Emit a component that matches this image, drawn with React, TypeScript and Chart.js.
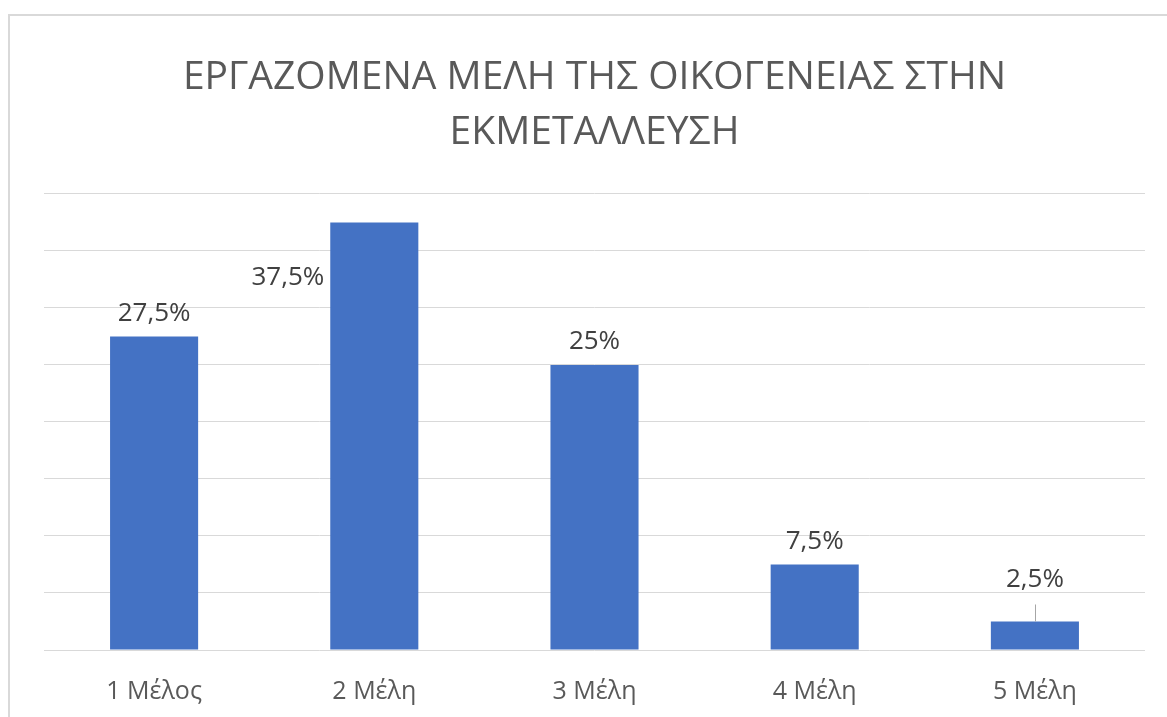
import React, { useEffect, useRef } from "react";
import { Chart, registerables } from "chart.js";

Chart.register(...registerables);

const categories = ["1 Μέλος", "2 Μέλη", "3 Μέλη", "4 Μέλη", "5 Μέλη"];
const percentages = [27.5, 37.5, 25, 7.5, 2.5];
const titleLines = ["ΕΡΓΑΖΟΜΕΝΑ ΜΕΛΗ ΤΗΣ ΟΙΚΟΓΕΝΕΙΑΣ ΣΤΗΝ", "ΕΚΜΕΤΑΛΛΕΥΣΗ"];
const yMax = 40;
const yStep = 5;

const FONT = "'Open Sans', 'Noto Sans', sans-serif";

const labelPlugin = {
  id: "valueLabels",
  afterDatasetsDraw(chart: any) {
    const ctx = chart.ctx;
    const meta = chart.getDatasetMeta(0);
    ctx.save();
    ctx.font = `26px ${FONT}`;
    ctx.fillStyle = "#404040";
    ctx.textBaseline = "middle";
    meta.data.forEach((bar: any, i: number) => {
      const v = percentages[i];
      const text = String(v).replace(".", ",") + "%";
      const x = bar.x;
      const y = bar.y;
      const halfW = bar.width / 2;
      if (i === 1) {
        ctx.textAlign = "right";
        ctx.fillText(text, x - halfW - 6, y + 55);
      } else if (i === 4) {
        ctx.textAlign = "center";
        ctx.fillText(text, x, y - 42);
        ctx.strokeStyle = "#a6a6a6";
        ctx.lineWidth = 1;
        ctx.beginPath();
        ctx.moveTo(Math.round(x) + 0.5, y - 17);
        ctx.lineTo(Math.round(x) + 0.5, y);
        ctx.stroke();
      } else {
        ctx.textAlign = "center";
        ctx.fillText(text, x, y - 23);
      }
    });
    ctx.restore();
  },
};

export default function App() {
  const ref = useRef<HTMLCanvasElement | null>(null);
  useEffect(() => {
    if (!ref.current) return;
    const chart = new Chart(ref.current, {
      type: "bar",
      data: {
        labels: categories,
        datasets: [
          {
            data: percentages,
            backgroundColor: "#4472c4",
            barPercentage: 0.4,
            categoryPercentage: 1,
          },
        ],
      },
      options: {
        responsive: true,
        maintainAspectRatio: false,
        animation: false,
        layout: { padding: { left: 44, right: 22, top: 0, bottom: 12 } },
        plugins: {
          legend: { display: false },
          tooltip: { enabled: false },
          title: {
            display: true,
            text: titleLines,
            color: "#595959",
            font: { family: FONT, size: 39, weight: "normal", lineHeight: 1.41 },
            padding: { top: 50, bottom: 34 },
          },
        },
        scales: {
          x: {
            grid: { display: false },
            border: { display: false },
            ticks: {
              color: "#595959",
              font: { family: FONT, size: 25 },
              padding: 19,
              maxRotation: 0,
            },
            afterFit(scale: any) {
              scale.height = 55;
            },
          },
          y: {
            min: 0,
            max: yMax,
            ticks: { display: false, stepSize: yStep },
            grid: { color: "#d9d9d9", lineWidth: 1, drawTicks: false },
            border: { display: false },
          },
        },
      },
      plugins: [labelPlugin],
    });
    return () => chart.destroy();
  }, []);
  return (
    <div style={{ position: "fixed", left: 0, top: 0, width: 1167, height: 717, background: "#fff" }}>
      <div
        style={{
          position: "absolute",
          left: 8,
          top: 14,
          width: 1180,
          height: 720,
          border: "2px solid #d9d9d9",
          boxSizing: "border-box",
        }}
      />
      <div style={{ position: "absolute", left: 0, top: 0, width: 1167, height: 717 }}>
        <canvas ref={ref} />
      </div>
    </div>
  );
}
